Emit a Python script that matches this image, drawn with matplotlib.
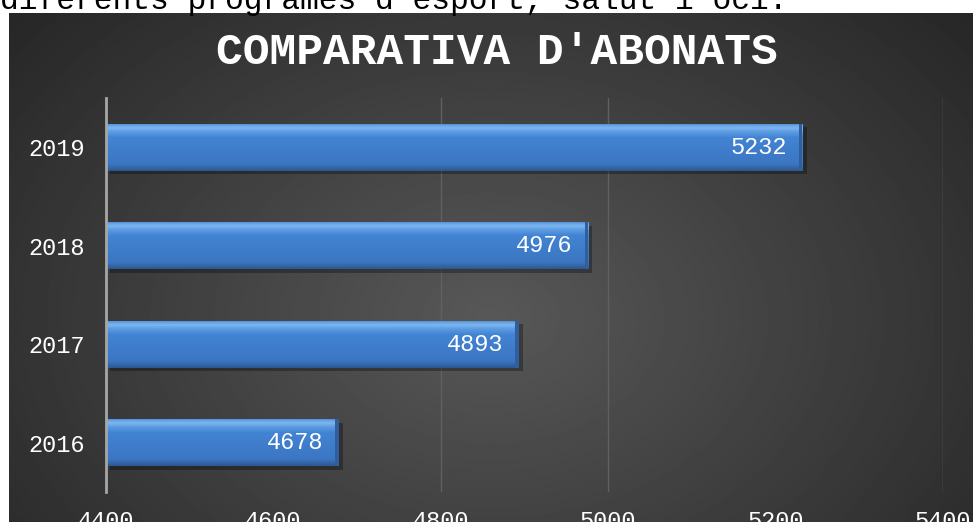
import numpy as np
import matplotlib.pyplot as plt
from matplotlib.colors import LinearSegmentedColormap

# === DATA ===
years = ['2016', '2017', '2018', '2019']
subscribers = [4678, 4893, 4976, 5232]
x_ticks = [4400, 4600, 4800, 5000, 5200, 5400]
grid_shown = [4800, 5000, 5400]   # the reference only shows these grid lines
title = "COMPARATIVA D'ABONATS"
intro_text = "diferents programes d'esport, salut i oci."

FONT = 'Liberation Mono'
W, H = 973, 522

fig = plt.figure(figsize=(W / 100, H / 100), dpi=100, facecolor='white')

# text line above the chart (cut off at the top)
fig.text(0, 1 - 9 / H, intro_text, va='baseline', ha='left', fontsize=22.5,
         family=FONT, color='black')

# === BACKGROUND (radial dark gradient) ===
bg = fig.add_axes([9 / W, 0, 1 - 9 / W, 1 - 13 / H])
yy, xx = np.mgrid[0:1:300j, 0:1:500j]
r = np.sqrt(((xx - 0.50) / 0.62) ** 2 + ((yy - 0.60) / 0.85) ** 2)
shade = np.clip(0.345 - 0.18 * r, 0.14, 0.4)
bg.imshow(shade, cmap='gray', vmin=0, vmax=1, aspect='auto',
          extent=[0, 1, 0, 1], interpolation='bilinear')
bg.set_axis_off()

# === MAIN AXES ===
ax = fig.add_axes([106 / W, 30 / H, (943 - 106) / W, (492 - 98) / H])
ax.set_facecolor('none')

bar_h = 0.48
bar_cmap = LinearSegmentedColormap.from_list('bevel', [
    (0.00, '#2b5890'), (0.06, '#3466a8'), (0.14, '#3b76c2'),
    (0.70, '#4284d3'), (0.82, '#5b9be2'), (0.90, '#7cb6f0'),
    (0.95, '#6aa6e6'), (1.00, '#4a86cf')])
grad = np.linspace(1, 0, 100).reshape(-1, 1)

for g in grid_shown:
    ax.axvline(g, color='#606060', linewidth=1, zorder=1)

ypos = np.arange(len(years))
for y, v in zip(ypos, subscribers):
    # drop shadow
    ax.barh(y - 0.035, v - 4400, left=4400 + 5, height=bar_h,
            color='black', alpha=0.3, zorder=2, linewidth=0)
    bar = ax.barh(y, v - 4400, left=4400, height=bar_h,
                  color='#4080cc', zorder=3, linewidth=0)[0]
    im = ax.imshow(grad, cmap=bar_cmap, vmin=0, vmax=1, aspect='auto',
                   extent=[4400, v, y - bar_h / 2, y + bar_h / 2],
                   zorder=4, interpolation='bilinear')
    im.set_clip_path(bar)
    # darker right edge
    ax.barh(y, 4, left=v - 4, height=bar_h, color='#2f5f9e',
            zorder=5, linewidth=0)
    ax.annotate(str(v), xy=(v, y), xytext=(-11, 0), textcoords='offset points',
                ha='right', va='center', color='white', fontsize=17,
                family=FONT, zorder=6)

ax.set_aspect('auto')
ax.set_xlim(4400, 5400)
ax.set_ylim(-0.5, 3.5)

ax.set_yticks(ypos)
ax.set_yticklabels(years)
ax.set_xticks(x_ticks)
ax.set_xticklabels([str(t) for t in x_ticks])
ax.tick_params(axis='both', length=0, colors='white', labelsize=17)
ax.tick_params(axis='x', pad=13)
ax.tick_params(axis='y', pad=15)
for lbl in ax.get_xticklabels() + ax.get_yticklabels():
    lbl.set_family(FONT)

for side in ['top', 'right', 'bottom']:
    ax.spines[side].set_visible(False)
ax.spines['left'].set_color('#a6a6a6')
ax.spines['left'].set_linewidth(2)
ax.spines['left'].set_zorder(7)

fig.text(497 / W, 1 - 52 / H, title, ha='center', va='center', fontsize=32,
         fontweight='bold', family=FONT, color='white')

fig.savefig('out.png', dpi=100)
